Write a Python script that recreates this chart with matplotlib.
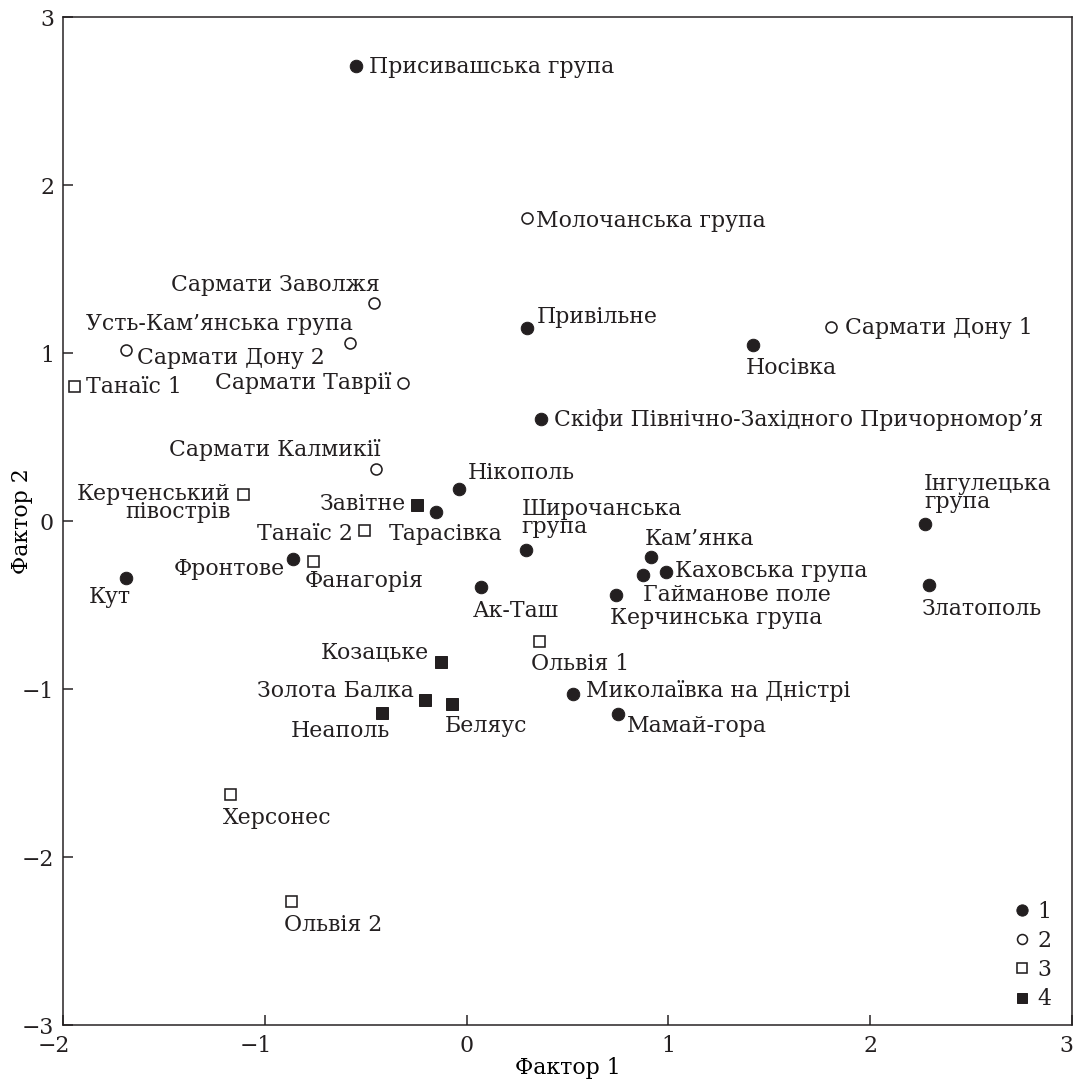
import matplotlib
matplotlib.use('Agg')
import matplotlib.pyplot as plt
from matplotlib.transforms import ScaledTranslation

# factor scores
names = [
    'Присивашська група', 'Привільне', 'Носівка',
    'Скіфи Північно-Західного Причорномор’я', 'Нікополь', 'Тарасівка',
    'Широчанська\nгрупа', 'Фронтове', 'Кут', 'Ак-Таш', 'Кам’янка',
    'Каховська група', 'Гайманове поле', 'Керчинська група',
    'Миколаївка на Дністрі', 'Мамай-гора', 'Інгулецька\nгрупа', 'Златополь',
    'Молочанська група', 'Сармати Заволжя', 'Усть-Кам’янська група',
    'Сармати Дону 2', 'Сармати Таврії', 'Сармати Калмикії', 'Сармати Дону 1',
    'Танаїс 1', 'Керченський\nпівострів', 'Танаїс 2', 'Фанагорія',
    'Ольвія 1', 'Херсонес', 'Ольвія 2',
    'Завітне', 'Козацьке', 'Золота Балка', 'Беляус', 'Неаполь',
]
factor1 = [
    -0.55, 0.30, 1.42, 0.37, -0.036, -0.15, 0.293, -0.862, -1.69, 0.073,
    0.915, 0.988, 0.875, 0.74, 0.527, 0.75, 2.27, 2.29,
    0.30, -0.458, -0.58, -1.69, -0.313, -0.448, 1.806,
    -1.947, -1.11, -0.506, -0.76, 0.359, -1.173, -0.872,
    -0.248, -0.129, -0.208, -0.074, -0.417,
]
factor2 = [
    2.71, 1.15, 1.05, 0.61, 0.19, 0.054, -0.17, -0.228, -0.337, -0.395,
    -0.216, -0.305, -0.32, -0.44, -1.03, -1.15, -0.018, -0.38,
    1.805, 1.30, 1.06, 1.02, 0.82, 0.31, 1.157,
    0.805, 0.16, -0.054, -0.238, -0.712, -1.627, -2.26,
    0.095, -0.841, -1.065, -1.09, -1.145,
]
groups = [1] * 18 + [2] * 7 + [3] * 7 + [4] * 5
xticks = [-2, -1, 0, 1, 2, 3]
yticks = [-3, -2, -1, 0, 1, 2, 3]

# label placement: (dx px, first baseline below point px, alignment)
label_pos = {
    'Присивашська група': (13, 7.7, 'left'),
    'Привільне': (10, -4.4, 'left'),
    'Носівка': (-7.7, 29.3, 'left'),
    'Скіфи Північно-Західного Причорномор’я': (13, 7.7, 'left'),
    'Нікополь': (8, -10, 'left'),
    'Тарасівка': (-47.6, 28, 'left'),
    'Широчанська\nгрупа': (-4, -34.7, 'left'),
    'Фронтове': (-8, 15.7, 'right'),
    'Кут': (-37.3, 25.6, 'left'),
    'Ак-Таш': (-8.4, 30, 'left'),
    'Кам’янка': (-6, -12, 'left'),
    'Каховська група': (9.3, 5, 'left'),
    'Гайманове поле': (0, 26.7, 'left'),
    'Керчинська група': (-6, 29.3, 'left'),
    'Миколаївка на Дністрі': (12.7, 2.7, 'left'),
    'Мамай-гора': (8.7, 17.4, 'left'),
    'Інгулецька\nгрупа': (-0.7, -34, 'left'),
    'Златополь': (-6.6, 30, 'left'),
    'Молочанська група': (9.3, 9, 'left'),
    'Сармати Заволжя': (5.3, -11.3, 'right'),
    'Усть-Кам’янська група': (3.3, -13, 'right'),
    'Сармати Дону 2': (11.4, 14, 'left'),
    'Сармати Таврії': (-12.3, 6, 'right'),
    'Сармати Калмикії': (4.3, -13.3, 'right'),
    'Сармати Дону 1': (14.3, 7.6, 'left'),
    'Танаїс 1': (12.3, 7.6, 'left'),
    'Керченський\nпівострів': (-12, 5.7, 'right'),
    'Танаїс 2': (-11.7, 10, 'right'),
    'Фанагорія': (-8.7, 25.7, 'left'),
    'Ольвія 1': (-7.6, 29.3, 'left'),
    'Херсонес': (-7.4, 29.7, 'left'),
    'Ольвія 2': (-7, 30.7, 'left'),
    'Завітне': (-10.3, 5, 'right'),
    'Козацьке': (-11.7, -3, 'right'),
    'Золота Балка': (-10.7, -2.7, 'right'),
    'Беляус': (-7, 27.4, 'left'),
    'Неаполь': (8, 23.4, 'right'),
}

ink = '#231f20'
plt.rcParams['font.family'] = 'DejaVu Serif'
plt.rcParams['font.size'] = 22
plt.rcParams['text.color'] = ink
plt.rcParams['axes.edgecolor'] = ink
plt.rcParams['xtick.color'] = ink
plt.rcParams['ytick.color'] = ink

fig = plt.figure(figsize=(1075 / 72, 1079 / 72), dpi=72)
ax = fig.add_axes([63 / 1075, 54 / 1079, 1009 / 1075, 1008 / 1079])

styles = {
    1: dict(marker='o', ms=12.5, mfc=ink, mec=ink, mew=1),
    2: dict(marker='o', ms=11, mfc='white', mec=ink, mew=1.6),
    3: dict(marker='s', ms=11, mfc='white', mec=ink, mew=1.6),
    4: dict(marker='s', ms=11.5, mfc=ink, mec=ink, mew=1),
}
for g in [1, 2, 3, 4]:
    xs = [x for x, gg in zip(factor1, groups) if gg == g]
    ys = [y for y, gg in zip(factor2, groups) if gg == g]
    ax.plot(xs, ys, ls='none', label=str(g), **styles[g])

asc = 16.8  # top of text box above first baseline, px
for name, x, y in zip(names, factor1, factor2):
    dx, dy, ha = label_pos[name]
    if '\n' in name:
        ax.annotate(name, (x, y), xytext=(dx, -dy + asc),
                    textcoords='offset points', ha=ha, va='top',
                    linespacing=0.74)
    else:
        ax.annotate(name, (x, y), xytext=(dx, -dy),
                    textcoords='offset points', ha=ha, va='baseline')

ax.set_xlim(-2, 3)
ax.set_ylim(-3, 3)
ax.set_yticks(yticks)
for s in ax.spines.values():
    s.set_linewidth(1.5)
ax.tick_params(direction='in', length=10, width=1.5, top=False, right=False)
ax.tick_params(axis='x', pad=10)
ax.tick_params(axis='y', pad=9)

ax.set_xticks(xticks)
xlabels = ax.set_xticklabels([('−%g' % -v) if v < 0 else '%g' % v for v in xticks])
# minus signs hang to the left of the digits, last label kept inside
for v, lab in zip(xticks, xlabels):
    if v < 0 or v == 3:
        shift = 7 if v < 0 else 1
        lab.set_ha('right')
        lab.set_transform(lab.get_transform() +
                          ScaledTranslation(shift / 72, 0, fig.dpi_scale_trans))

ax.set_xlabel('Фактор 1', va='center')
ax.xaxis.set_label_coords(0.5, -0.0425)
ax.set_ylabel('Фактор 2', va='center')
ax.yaxis.set_label_coords(-0.0406, 0.5)

ax.legend(loc='lower right', bbox_to_anchor=(0.9796, 0.0145), frameon=False,
          handlelength=0.6, handletextpad=0.4, labelspacing=0.33,
          borderpad=0, borderaxespad=0, markerscale=0.9)

fig.savefig('out.png', dpi=72)
